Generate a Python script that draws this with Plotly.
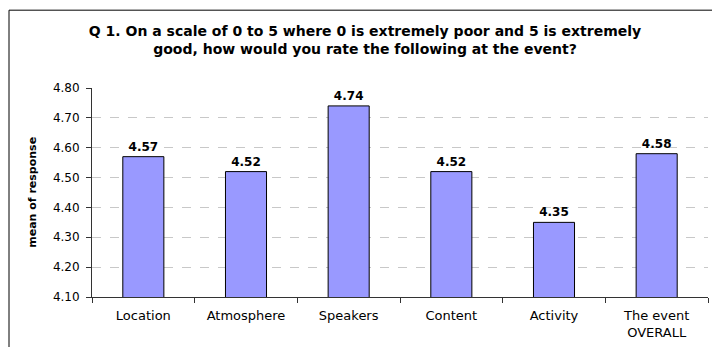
import plotly.graph_objects as go

categories = ["Location", "Atmosphere", "Speakers", "Content", "Activity", "The event<br>OVERALL"]
means = [4.57, 4.52, 4.74, 4.52, 4.35, 4.58]
y_ticks = [4.10, 4.20, 4.30, 4.40, 4.50, 4.60, 4.70, 4.80]
title_text = "Q 1. On a scale of 0 to 5 where 0 is extremely poor and 5 is extremely<br>good, how would you rate the following at the event?"
y_title = "mean of response"

FONT = "DejaVu Sans, Liberation Sans, Arial, sans-serif"

fig = go.Figure(go.Bar(
    x=categories,
    y=means,
    marker=dict(color="#9999FF", line=dict(color="#000000", width=1)),
    text=[f"{v:.2f}" for v in means],
    textposition="outside",
    textfont=dict(family=FONT, size=12, color="#000000", weight="bold"),
    cliponaxis=False,
    width=0.4,
))

fig.update_layout(
    width=712, height=347,
    margin=dict(l=92, r=4, t=88, b=50),
    paper_bgcolor="white",
    plot_bgcolor="white",
    showlegend=False,
    font=dict(family=FONT, color="#000000"),
    title=dict(
        text="<b>" + title_text + "</b>",
        x=365 / 712, xanchor="center",
        y=1 - 36 / 347, yanchor="middle", yref="container",
        font=dict(family=FONT, size=14, color="#000000"),
    ),
    xaxis=dict(
        showline=True, linecolor="#333333", linewidth=1,
        ticks="outside", tickson="boundaries", ticklen=5, tickcolor="#333333",
        tickfont=dict(family=FONT, size=13, color="#000000"),
        ticklabelstandoff=6,
        showgrid=False,
    ),
    yaxis=dict(
        range=[4.1, 4.8],
        tickvals=y_ticks,
        ticktext=[f"{v:.2f}" for v in y_ticks],
        showline=True, linecolor="#333333", linewidth=1,
        ticks="outside", ticklen=5, tickcolor="#333333",
        tickfont=dict(family=FONT, size=12, color="#000000"),
        ticklabelstandoff=4,
        showgrid=True, gridcolor="#C8C8C8", griddash="dash", gridwidth=1,
        zeroline=False,
    ),
    annotations=[dict(
        text="<b>" + y_title + "</b>",
        xref="paper", yref="paper",
        x=(33 - 92) / 616, y=(297.5 - 193) / 209.5,
        xanchor="center", yanchor="middle",
        textangle=-90, showarrow=False,
        font=dict(family=FONT, size=11, color="#000000"),
    )],
    shapes=[dict(
        type="rect", xref="paper", yref="paper",
        x0=(9 - 92) / 616, x1=(740 - 92) / 616,
        y0=(297.5 - 400) / 209.5, y1=(297.5 - 10) / 209.5,
        line=dict(color="#000000", width=1), fillcolor="rgba(0,0,0,0)",
        layer="below",
    )],
)

fig.write_html("out.html")
